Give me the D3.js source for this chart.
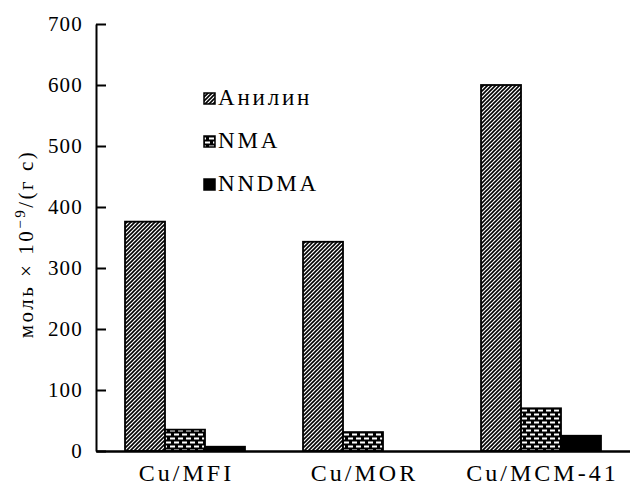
<!DOCTYPE html>
<html lang="ru">
<head>
<meta charset="UTF-8">
<title>Cu catalysts</title>
<script src="https://d3js.org/d3.v7.min.js"></script>
<style>
  body { margin: 0; background: #fff; }
</style>
</head>
<body>
<svg width="630" height="487"></svg>
<script>
// data
const catalysts = ["Cu/MFI", "Cu/MOR", "Cu/MCM-41"];
const series = ["Анилин", "NMA", "NNDMA"];
const anilin = [376, 343, 600];
const nma = [35, 31, 70];
const nndma = [7, 0, 25];
const yTicks = [0, 100, 200, 300, 400, 500, 600, 700];

const values = [anilin, nma, nndma];
const rows = catalysts.map((c, i) => ({ cat: c, vals: series.map((s, j) => ({ key: s, v: values[j][i] })) }));

const serif = '"Liberation Serif"';

const svg = d3.select("svg");
const defs = svg.append("defs");

// diagonal stripes
const p1 = defs.append("pattern").attr("id", "stripe")
  .attr("patternUnits", "userSpaceOnUse").attr("width", 4).attr("height", 4);
p1.append("rect").attr("width", 4).attr("height", 4).attr("fill", "#fff");
p1.append("path").attr("d", "M-1,1 l2,-2 M0,4 l4,-4 M3,5 l2,-2")
  .attr("stroke", "#000").attr("stroke-width", 1.6);

// brick-ish dashes
const p2 = defs.append("pattern").attr("id", "brick")
  .attr("patternUnits", "userSpaceOnUse").attr("width", 8).attr("height", 8);
p2.append("rect").attr("width", 8).attr("height", 8).attr("fill", "#000");
p2.append("rect").attr("x", 1).attr("y", 1.5).attr("width", 5).attr("height", 2).attr("fill", "#fff");
p2.append("rect").attr("x", 5).attr("y", 5.5).attr("width", 5).attr("height", 2).attr("fill", "#fff");
p2.append("rect").attr("x", -3).attr("y", 5.5).attr("width", 5).attr("height", 2).attr("fill", "#fff");

const fills = { "Анилин": "url(#stripe)", "NMA": "url(#brick)", "NNDMA": "#000" };

const mLeft = 96, mRight = 630, mTop = 24, mBottom = 451;

const x0 = d3.scaleBand().domain(catalysts).range([mLeft, mRight])
  .paddingInner(0.326).paddingOuter(0.163);
const x1 = d3.scaleBand().domain(series).range([0, x0.bandwidth()]);
const y = d3.scaleLinear().domain([0, 700]).range([mBottom, mTop]);

// bars
const grp = svg.append("g").selectAll("g").data(rows).join("g")
  .attr("transform", d => `translate(${x0(d.cat)},0)`);
grp.selectAll("rect").data(d => d.vals.filter(e => e.v > 0)).join("rect")
  .attr("x", d => x1(d.key))
  .attr("y", d => y(d.v))
  .attr("width", x1.bandwidth())
  .attr("height", d => y(0) - y(d.v))
  .attr("fill", d => fills[d.key])
  .attr("stroke", "#000")
  .attr("stroke-width", 1.8);

// y axis
const yAxis = svg.append("g").attr("transform", `translate(${mLeft},0)`)
  .call(d3.axisLeft(y).tickValues(yTicks).tickSizeInner(-10).tickSizeOuter(0).tickPadding(13));
yAxis.attr("font-family", null);
yAxis.select(".domain").attr("stroke-width", 2);
yAxis.selectAll(".tick line").attr("stroke-width", 2);
yAxis.selectAll("text")
  .style("font-family", serif).style("font-size", "21px").style("letter-spacing", "1.2px");

// x axis
const xAxis = svg.append("g").attr("transform", `translate(0,${mBottom})`)
  .call(d3.axisBottom(x0).tickSize(0));
xAxis.attr("font-family", null);
xAxis.select(".domain").attr("stroke-width", 2.5);
xAxis.selectAll("text")
  .style("font-family", serif).style("font-size", "24px").style("letter-spacing", "3px")
  .attr("x", 1.5).attr("y", 30).attr("dy", null);

// y title
svg.append("text")
  .attr("transform", "translate(33,244) rotate(-90)")
  .attr("text-anchor", "middle")
  .style("font-family", serif)
  .style("font-size", "21px")
  .style("letter-spacing", "2.5px")
  .html('моль × 10<tspan dy="-8" font-size="15">−9</tspan><tspan dy="8">/(г с)</tspan>');

// legend
const leg = svg.append("g").selectAll("g").data(series).join("g")
  .attr("transform", (d, i) => `translate(204,${105 + i * 43})`);
leg.append("rect").attr("y", -12).attr("width", 11).attr("height", 11)
  .attr("fill", d => fills[d]).attr("stroke", "#000").attr("stroke-width", 1.5);
leg.append("text")
  .attr("x", 14)
  .style("font-family", serif).style("font-size", "23px").style("letter-spacing", "2.8px")
  .text(d => d);
</script>
</body>
</html>
